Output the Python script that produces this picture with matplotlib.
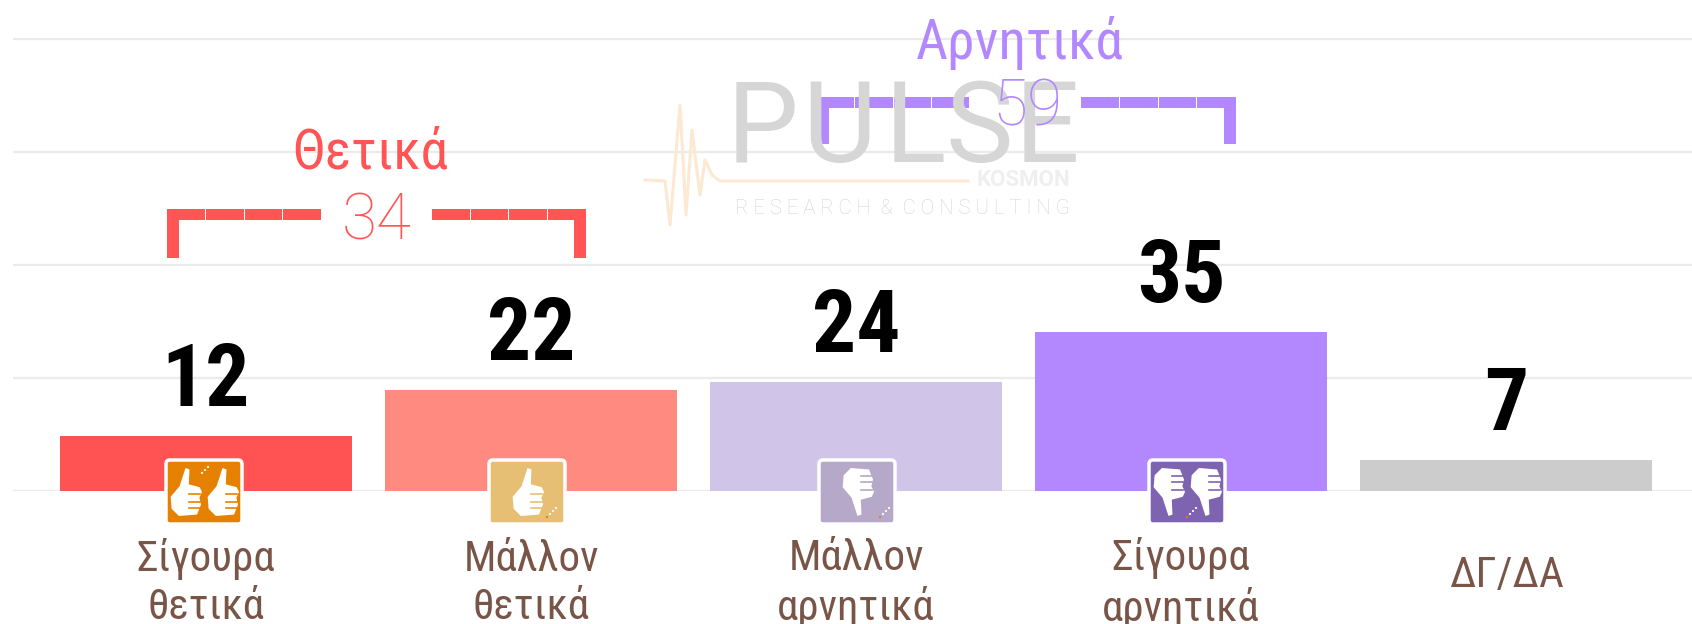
import matplotlib
matplotlib.use("Agg")
import matplotlib.pyplot as plt
from matplotlib.patches import FancyBboxPatch, Polygon, Rectangle

categories = ["Σίγουρα\nθετικά", "Μάλλον\nθετικά", "Μάλλον\nαρνητικά", "Σίγουρα\nαρνητικά", "ΔΓ/ΔΑ"]
values = [12.2, 22.3, 24.2, 35.2, 6.9]
value_labels = ["12", "22", "24", "35", "7"]
bar_colors = ["#ff5252", "#ff8a80", "#d1c4e9", "#b388ff", "#cccccc"]
icon_colors = ["#e68100", "#e6bf75", "#b5a8c8", "#7e63b0"]
grid_ticks = [0, 25, 50, 75, 100]

W, H = 1692, 624
COND = ["Roboto Condensed", "DejaVu Sans"]
RED = "#ff5555"
PURPLE = "#b388ff"
BROWN = "#795548"

fig = plt.figure(figsize=(W / 100, H / 100), dpi=100, facecolor="white")

# main chart, bottom edge of the axes is the bar baseline
base_y = 491
ax = fig.add_axes([13 / W, (H - base_y) / H, 1 - 13 / W, base_y / H])
ax.set_ylim(0, base_y / 4.52)
ax.set_xlim((13 - 206) / 325, (1692 - 206) / 325)
ax.bar(range(5), values, width=0.9, color=bar_colors, zorder=2)
for i, v in enumerate(values):
    ax.annotate(value_labels[i], (i, v), xytext=(0, 21.5), textcoords="offset points",
                ha="center", va="baseline", fontsize=63, fontweight="bold",
                family=COND, color="black", zorder=5)
ax.set_yticks(grid_ticks)
ax.set_yticklabels([])
ax.grid(axis="y", color="#ebebeb", lw=1.6, zorder=0)
ax.set_axisbelow(True)
ax.set_xticks(range(5))
ax.set_xticklabels(categories, fontsize=31, family=COND, color=BROWN,
                   va="center", linespacing=1.22)
ax.tick_params(axis="both", length=0)
ax.tick_params(axis="x", pad=66.5)
ax.xaxis.get_major_ticks()[4].set_pad(60.5)
for s in ax.spines.values():
    s.set_visible(False)

# overlay in pixel coordinates for brackets, logo and icons
ov = fig.add_axes([0, 0, 1, 1], zorder=3)
ov.set_xlim(0, W)
ov.set_ylim(H, 0)
ov.axis("off")
ov.patch.set_alpha(0)


def bracket(left, right, gap_l, gap_r, top, bottom, color):
    ov.add_patch(Rectangle((left, top), 12, bottom - top, color=color, lw=0))
    ov.add_patch(Rectangle((right - 12, top), 12, bottom - top, color=color, lw=0))
    n = 4
    for a, b in [(left, gap_l), (gap_r, right)]:
        step = (b - a) / n
        for k in range(n):
            ov.add_patch(Rectangle((a + k * step, top), step - 1, 11, color=color, lw=0))


bracket(167, 586, 322, 432, 209, 258, RED)
bracket(817, 1236, 970, 1081, 97, 144, PURPLE)
ov.text(370, 153, "Θετικά", fontsize=40, family=COND, color=RED, ha="center", va="center")
ov.text(377, 221, "34", fontsize=46, family="Roboto", color=RED, ha="center", va="center", fontweight="light")

# logo
for ch, x in zip("PULSE", [727, 802, 885, 946, 1015]):
    ov.text(x, 162, ch, fontsize=82, family="Roboto", color="#d6d6d6",
            ha="left", va="baseline", zorder=1)
pulse_x = [645, 665, 670, 680, 686, 692, 700, 705, 712, 720, 726, 730, 968]
pulse_y = [180, 181, 225, 105, 215, 130, 195, 160, 175, 181, 181, 181, 181]
ov.plot(pulse_x, pulse_y, color="#fde8d2", lw=2.2, zorder=1)
ov.text(1023, 180, "KOSMON", fontsize=16, family="Roboto", fontweight="bold", color="#efefef",
        ha="center", va="center", zorder=1)
ov.text(902, 208, "R E S E A R C H  &  C O N S U L T I N G", fontsize=14.7, family="Roboto",
        fontweight="light", color="#d4d4d4", ha="center", va="center", zorder=1)

ov.text(1020, 43, "Αρνητικά", fontsize=40, family=COND, color=PURPLE, ha="center", va="center", zorder=4)
ov.text(1027, 107, "59", fontsize=46, family="Roboto", color=PURPLE, ha="center", va="center", zorder=4, fontweight="light")

# thumb outline in a unit box, pointing up
thumb = [(0.05, 0.6), (0.32, 0.38), (0.5, 0.0), (0.62, 0.03), (0.6, 0.34), (0.93, 0.4),
         (1.0, 0.5), (0.92, 0.62), (0.97, 0.76), (0.85, 0.97), (0.3, 1.0), (0.08, 0.85)]


def icon(cx, color, count, down, spark):
    x0, y0, w, h = cx - 38, 460, 76, 64
    ov.add_patch(FancyBboxPatch((x0, y0), w, h, boxstyle="round,pad=0,rounding_size=4",
                                fc=color, ec="white", lw=2.5, zorder=4))
    tw, th = 33, 48
    xs = [cx - 35, cx + 2] if count == 2 else [cx - 16]
    for tx in xs:
        pts = []
        for px, py in thumb:
            py2 = 1 - py if down else py
            pts.append((tx + px * tw, y0 + 8 + py2 * th))
        ov.add_patch(Polygon(pts, closed=True, fc="white", ec="none", zorder=5))
        # finger separations
        for fy in [0.55, 0.7, 0.84]:
            fy2 = 1 - fy if down else fy
            ov.plot([tx + 0.62 * tw, tx + 0.95 * tw], [y0 + 8 + fy2 * th] * 2,
                    color=color, lw=1.2, zorder=6)
    # little sparkle dots
    sx, sy = spark
    ov.scatter([sx, sx + 3, sx + 6, sx + 9], [sy, sy - 3, sy - 6, sy - 9], s=2.5,
               color=["#e68100", "white", "white", "white"], lw=0, zorder=6)


icon(204, icon_colors[0], 2, False, (199, 476))
icon(527, icon_colors[1], 1, False, (547, 517))
icon(857, icon_colors[2], 1, True, (880, 517))
icon(1187, icon_colors[3], 2, True, (1187, 517))

fig.savefig("out.png", dpi=100)
